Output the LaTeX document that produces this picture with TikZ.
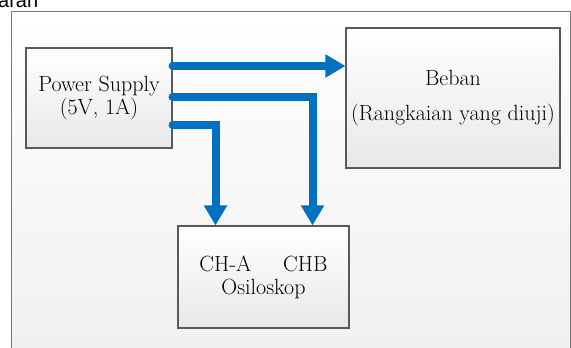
\documentclass[tikz,border=0pt]{standalone}
\usepackage{fontspec}
\newfontfamily\captionfont{Liberation Sans}
\usepackage{xcolor}
\usetikzlibrary{arrows.meta,positioning,calc}

\definecolor{wireblue}{RGB}{0,112,192}
\definecolor{framegray}{RGB}{120,120,120}

\begin{document}
\begin{tikzpicture}[
    x=1pt, y=-1pt,
    block/.style={rectangle, draw=black!65, line width=1.1pt,
                  top color=white, bottom color=black!9,
                  align=center, inner sep=0pt, font=\fontsize{22}{23}\selectfont},
    arr/.style={-{Triangle[width=22pt,length=20pt]}, line width=8pt, draw=wireblue,
                line cap=round, line join=miter}
  ]
  \useasboundingbox (0,0) rectangle (571,348);

  % Cropped caption and frame
  \node[font=\captionfont\fontsize{20}{24}\selectfont, anchor=base west, inner sep=0pt] (cap) at (-2,7) {aran};
  \draw[framegray, line width=0.9pt, top color=white, bottom color=black!6] (11,11) rectangle (570,360);

  % Blocks
  \node[block, minimum width=146pt, minimum height=100pt] (ps) at (99,98) {Power Supply\\(5V, 1A)};
  \node[block, minimum width=214pt, minimum height=140pt] (load) at (453,98) {Beban\\[12pt](Rangkaian yang diuji)};
  \node[block, minimum width=171pt, minimum height=102pt] (osc) at (263.5,277) {CH-A\hspace{32pt}CHB\\Osiloskop};

  % Wires
  \draw[arr] ([yshift=32pt]ps.east) -- ([yshift=32pt]load.west);
  \draw[arr] ([yshift=1pt]ps.east) -| ([xshift=49pt]osc.north);
  \draw[arr] ([yshift=-27pt]ps.east) -| ([xshift=-48pt]osc.north);

\end{tikzpicture}
\end{document}
